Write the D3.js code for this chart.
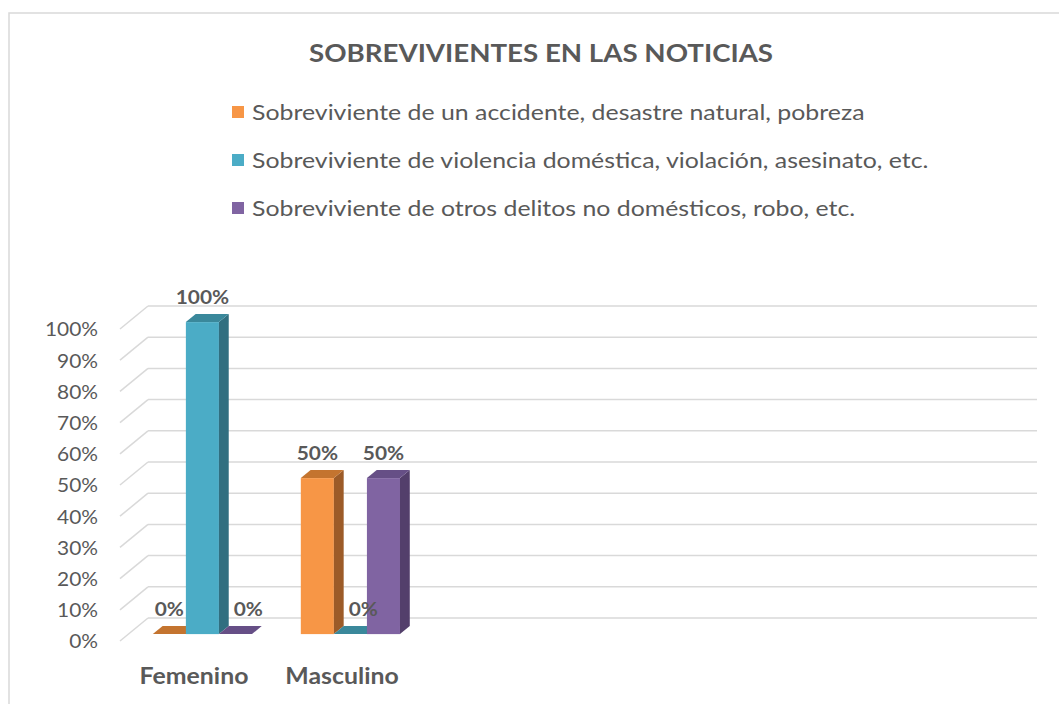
<!DOCTYPE html>
<html>
<head>
<meta charset="utf-8">
<script src="https://cdn.jsdelivr.net/npm/d3@7"></script>
<style>
  html, body { margin: 0; padding: 0; background: #fff; }
  svg { display: block; font-family: Lato, "Open Sans", sans-serif; }
</style>
</head>
<body>
<svg id="chart" width="1059" height="704"></svg>
<script>
// ---- data ----
const title = "SOBREVIVIENTES EN LAS NOTICIAS";
const categories = ["Femenino", "Masculino", "", "", "", ""];
const seriesNames = [
  "Sobreviviente de un accidente, desastre natural, pobreza",
  "Sobreviviente de violencia doméstica, violación, asesinato, etc.",
  "Sobreviviente de otros delitos no domésticos, robo, etc."
];
const accidenteValues = [0, 50];
const violenciaValues = [100, 0];
const otrosValues = [0, 50];
const yTicks = [0, 10, 20, 30, 40, 50, 60, 70, 80, 90, 100];

// ---- styles ----
const frontColors = ["#F79646", "#4BACC6", "#8064A2"];
const sideColors  = ["#9C5B28", "#316F80", "#533F6B"];
const topColors   = ["#C4742F", "#3A889B", "#664F86"];
const textColor = "#595959";
const gridColor = "#d9d9d9";
const stretch = 1.13; // horizontal stretch of text, as in the reference

const series = [accidenteValues, violenciaValues, otrosValues];

const svg = d3.select("#chart");

function stretchedText(parent, x, y) {
  return parent.append("text").attr("transform", `translate(${x},${y}) scale(${stretch},1)`);
}

// chart border
svg.append("rect").attr("x", 9).attr("y", 13).attr("width", 1200).attr("height", 900)
  .attr("fill", "none").attr("stroke", gridColor).attr("stroke-width", 1.5);

// title
stretchedText(svg, 541, 62).attr("text-anchor", "middle")
  .attr("font-size", 24.5).attr("font-weight", 700).attr("fill", textColor).text(title);

// legend
const legend = svg.append("g");
seriesNames.forEach((name, i) => {
  const yc = 112 + i * 48;
  legend.append("rect").attr("x", 232).attr("y", yc - 6).attr("width", 12).attr("height", 12)
    .attr("fill", frontColors[i]);
  stretchedText(legend, 252, yc).attr("dy", "0.35em")
    .attr("font-size", 22).attr("fill", textColor).text(name);
});

// ---- 3D geometry ----
const depthDX = 28, depthDY = -23;     // floor depth offset (front -> back wall)
const barF1 = 0.30, barF2 = 0.65;      // bar depth position (fractions of floor depth)

const x = d3.scaleBand().domain(d3.range(categories.length)).range([120, 1008]).paddingInner(0).paddingOuter(0);
const y = d3.scaleLinear().domain([0, 100]).range([641, 329]);
const groupWidth = x.bandwidth() * 0.67;
const xs = d3.scaleBand().domain(d3.range(series.length)).range([0, groupWidth]);

// gridlines: side wall diagonals + back wall lines
const grid = svg.append("g");
yTicks.forEach(t => {
  const yf = y(t);
  grid.append("line").attr("x1", 120).attr("y1", yf).attr("x2", 120 + depthDX).attr("y2", yf + depthDY)
    .attr("stroke", gridColor).attr("stroke-width", 1.5);
  grid.append("line").attr("x1", 120 + depthDX).attr("y1", yf + depthDY).attr("x2", 1037).attr("y2", yf + depthDY)
    .attr("stroke", gridColor).attr("stroke-width", 1.5);
});

// y axis labels
const yAxis = d3.axisLeft(y).tickValues(yTicks).tickSize(0).tickPadding(22).tickFormat(d => d + "%");
const ax = svg.append("g").attr("transform", "translate(120,0)").call(yAxis);
ax.select(".domain").remove();
ax.selectAll("text").attr("font-size", 18.5).attr("fill", textColor).attr("font-family", "Lato, sans-serif")
  .attr("x", 0).attr("transform", `translate(-22,1) scale(${stretch},1)`);

// bars
const offX1 = depthDX * barF1, offY1 = depthDY * barF1;
const bdx = depthDX * (barF2 - barF1), bdy = depthDY * (barF2 - barF1);
const bars = svg.append("g");
const labelInfo = [];
categories.forEach((cat, ci) => {
  series.forEach((vals, si) => {
    const v = vals[ci];
    if (v === undefined || v === null) return;
    const x0 = x(ci) + (x.bandwidth() - groupWidth) / 2 + xs(si) + offX1;
    const w = xs.bandwidth();
    const yb = y(0) + offY1;
    const yt = y(v) + offY1;
    if (yb - yt > 0) {
      // front
      bars.append("rect").attr("x", x0).attr("y", yt).attr("width", w).attr("height", yb - yt)
        .attr("fill", frontColors[si]);
      // side
      bars.append("path").attr("d", `M${x0 + w},${yb}L${x0 + w + bdx},${yb + bdy}L${x0 + w + bdx},${yt + bdy}L${x0 + w},${yt}Z`)
        .attr("fill", sideColors[si]);
    }
    // top
    bars.append("path").attr("d", `M${x0},${yt}L${x0 + w},${yt}L${x0 + w + bdx},${yt + bdy}L${x0 + bdx},${yt + bdy}Z`)
      .attr("fill", topColors[si]);
    labelInfo.push({ v, cx: x0 + w / 2, yt, sideRight: x0 + w + bdx, ci, si });
  });
});

// data labels (shifted right when they would overlap the previous, taller bar)
const labels = svg.append("g");
labelInfo.forEach((d, i) => {
  const t = stretchedText(labels, d.cx, d.yt - 18).attr("text-anchor", "middle")
    .attr("font-size", 18.5).attr("font-weight", 700).attr("fill", textColor).text(d.v + "%");
  const prev = labelInfo[i - 1];
  if (prev && prev.ci === d.ci && prev.yt < d.yt - 20) {
    const bw = t.node().getComputedTextLength() * stretch;
    if (d.cx - bw / 2 < prev.sideRight) {
      t.attr("transform", `translate(${prev.sideRight + 5 + bw / 2},${d.yt - 18}) scale(${stretch},1)`);
    }
  }
});

// category labels
const cats = svg.append("g");
categories.forEach((c, ci) => {
  if (!c) return;
  stretchedText(cats, x(ci) + x.bandwidth() / 2, 684).attr("text-anchor", "middle")
    .attr("font-size", 22).attr("font-weight", 700).attr("fill", textColor).text(c);
});
</script>
</body>
</html>
